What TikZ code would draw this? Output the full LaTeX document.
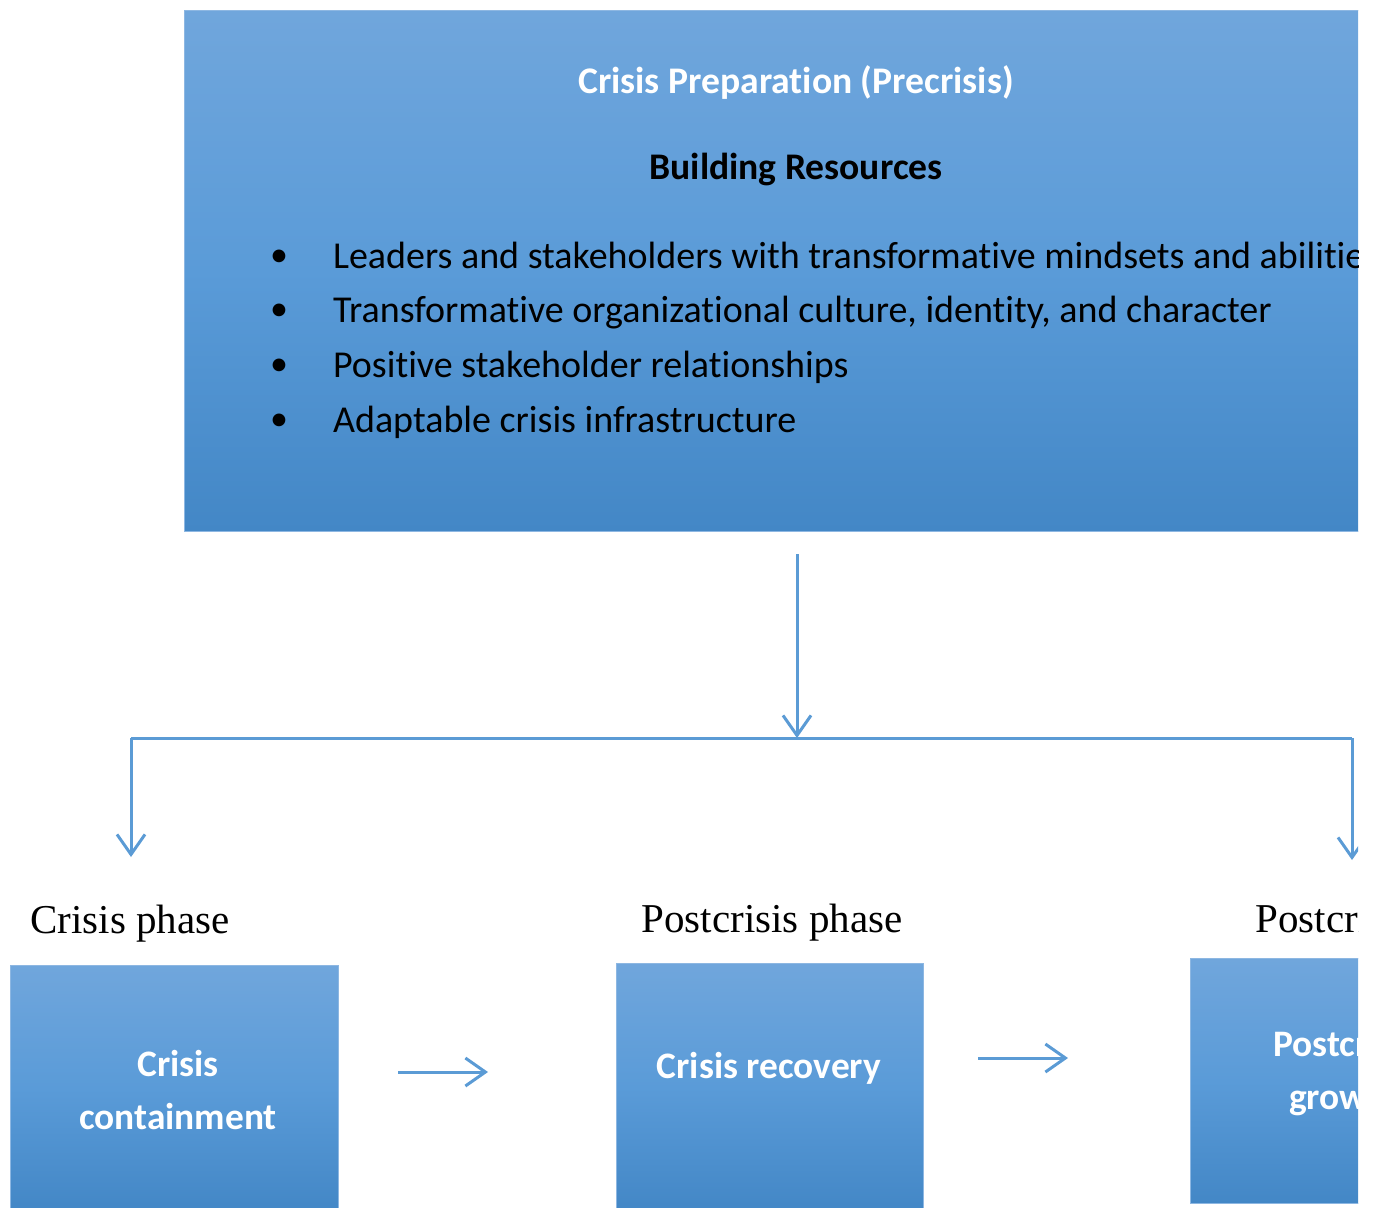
\documentclass[tikz,border=0pt]{standalone}
\usepackage{fontspec}
\setmainfont{Carlito}[Ligatures=NoCommon]
\newfontfamily\phasefont{Liberation Serif}
\usetikzlibrary{arrows.meta}

\definecolor{boxtop}{HTML}{70A6DC}
\definecolor{boxmid}{HTML}{5A9BD8}
\definecolor{boxbot}{HTML}{4387C6}
\definecolor{boxedge}{HTML}{8DB7E2}
\definecolor{linkblue}{HTML}{5B9BD5}

\tikzset{
  phasebox/.style={draw=boxedge, line width=0.5pt, top color=boxtop, bottom color=boxbot, middle color=boxmid, anchor=north west, inner sep=0pt},
  boxtext/.style={text=white, font=\fontsize{18.7}{26.5}\selectfont\bfseries, align=center},
  itemtext/.style={anchor=base west, font=\fontsize{19}{22}\selectfont},
  phaselabel/.style={anchor=base, font=\phasefont\fontsize{20.5}{24}\selectfont},
  link/.style={draw=linkblue, line width=1.5pt, -{Straight Barb[length=10pt, width=14pt, line width=1.5pt]}},
  plainlink/.style={draw=linkblue, line width=1.5pt}
}

\begin{document}
\begin{tikzpicture}[x=0.5pt, y=-0.5pt]
  \useasboundingbox (0,0) rectangle (1374,1207);
  \clip (0,0) rectangle (1358,1207);

  % precrisis box
  \node[phasebox, minimum width=618pt, minimum height=260.5pt] (prep) at (184,10) {};
  \node[text=white, font=\fontsize{18.8}{22}\selectfont\bfseries, anchor=base] (preptitle) at (796,93) {Crisis Preparation (Precrisis)};
  \node[font=\fontsize{18.8}{22}\selectfont\bfseries, anchor=base] (resources) at (796,179) {Building Resources};
  \foreach \y/\txt in {268/Leaders and stakeholders with transformative mindsets and abilities,
                       322/{Transformative organizational culture, identity, and character},
                       377/Positive stakeholder relationships,
                       432/Adaptable crisis infrastructure} {
    \node[font=\fontsize{18}{22}\selectfont] at (279,\y-10) {\textbullet};
    \node[itemtext] at (326,\y) {\txt};
  }

  % branching arrows
  \coordinate (split) at (797,738);
  \coordinate (lcorner) at (131,738);
  \coordinate (rcorner) at (1352,738);
  \coordinate (ltip) at (131,857);
  \coordinate (rtip) at (1352,860);
  \draw[link, shorten <=11pt] (prep.south -| split) -- (split);
  \draw[plainlink] (lcorner) -- (rcorner);
  \draw[link] (lcorner) -- (ltip);
  \draw[link] (rcorner) -- (rtip);

  % phase labels
  \node[phaselabel] (crisisphase) at (130,933) {Crisis phase};
  \node[phaselabel] (postphase) at (772,932) {Postcrisis phase};
  \node[phaselabel] (growphase) at (1386,932) {Postcrisis phase};

  % phase boxes
  \node[phasebox, minimum width=164pt, minimum height=122.5pt] (contain) at (10,965) {};
  \node[boxtext] (containtext) at (178,1090) {Crisis\\containment};
  \node[phasebox, minimum width=153.5pt, minimum height=123.5pt] (recover) at (616,963) {};
  \node[boxtext, anchor=base] (recovertext) at (769,1078) {Crisis recovery};
  \node[phasebox, minimum width=155pt, minimum height=122.5pt] (growth) at (1190,958) {};
  \node[boxtext] (growthtext) at (1345,1073) {Postcrisis\\growth};

  % phase arrows
  \coordinate (r1a) at (398,1072);
  \coordinate (r1b) at (488,1072);
  \coordinate (r2a) at (978,1058);
  \coordinate (r2b) at (1068,1058);
  \draw[link] (r1a) -- (r1b);
  \draw[link] (r2a) -- (r2b);
\end{tikzpicture}
\end{document}
